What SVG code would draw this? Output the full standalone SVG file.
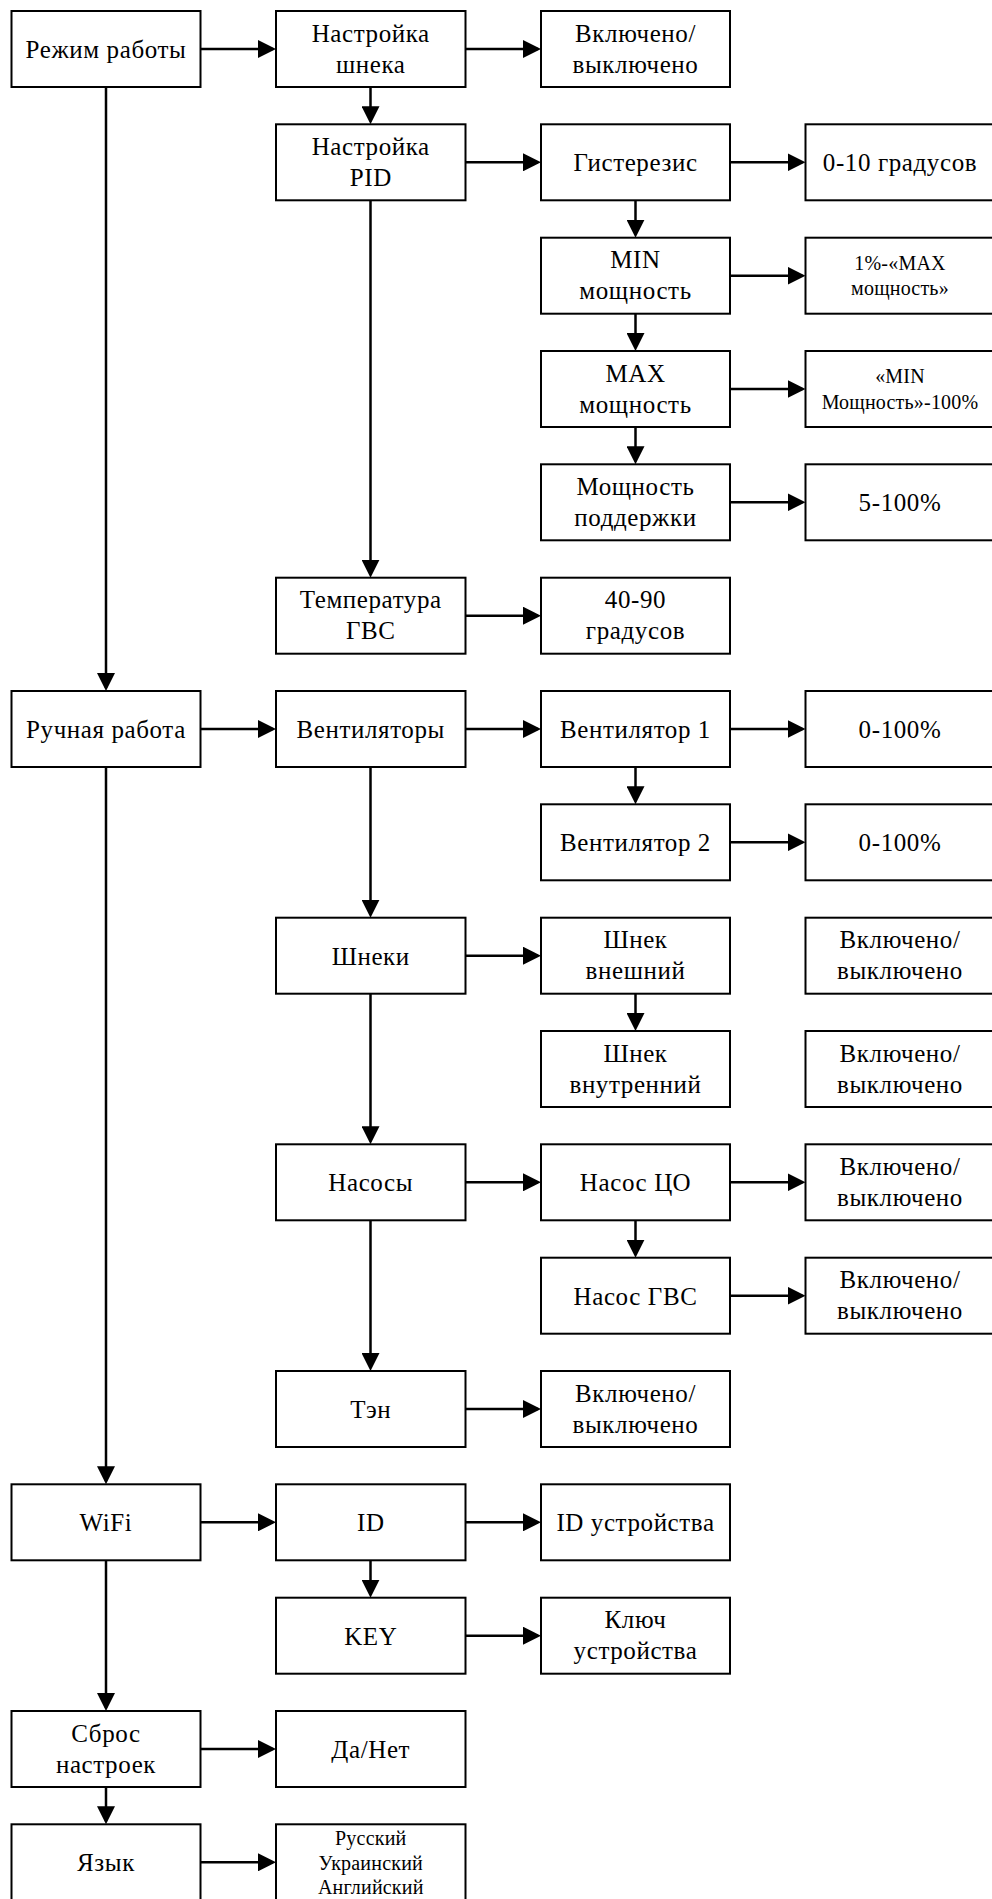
<svg xmlns="http://www.w3.org/2000/svg" width="992" height="1899" viewBox="0 0 992 1899">
<style>
.n rect{fill:#fff;stroke:#000;stroke-width:2}
.n text{font-family:"Liberation Serif","Times New Roman",serif;font-size:25px;letter-spacing:0.6px;fill:#000;text-anchor:middle}
.n text.s{font-size:20px;letter-spacing:0.2px}
#connectors line{stroke:#000;stroke-width:2.5;marker-end:url(#ah)}
</style>
<defs>
<marker id="ah" viewBox="0 0 18 18" refX="15" refY="9" markerWidth="18" markerHeight="18" markerUnits="userSpaceOnUse" orient="auto">
<path d="M0,0 L18,9 L0,18 z" fill="#000"/>
</marker>
</defs>
<rect width="992" height="1899" fill="#fff"/>
<g id="connectors">
<line x1="106" y1="87" x2="106" y2="688"/>
<line x1="106" y1="767" x2="106" y2="1481.3"/>
<line x1="106" y1="1560.3" x2="106" y2="1708"/>
<line x1="106" y1="1787" x2="106" y2="1821.3"/>
<line x1="370.5" y1="87" x2="370.5" y2="121.3"/>
<line x1="370.5" y1="200.3" x2="370.5" y2="574.7"/>
<line x1="370.5" y1="767" x2="370.5" y2="914.7"/>
<line x1="370.5" y1="993.7" x2="370.5" y2="1141.3"/>
<line x1="370.5" y1="1220.3" x2="370.5" y2="1368"/>
<line x1="370.5" y1="1560.3" x2="370.5" y2="1594.7"/>
<line x1="635.5" y1="200.3" x2="635.5" y2="234.7"/>
<line x1="635.5" y1="313.7" x2="635.5" y2="348"/>
<line x1="635.5" y1="427" x2="635.5" y2="461.3"/>
<line x1="635.5" y1="767" x2="635.5" y2="801.3"/>
<line x1="635.5" y1="993.7" x2="635.5" y2="1028"/>
<line x1="635.5" y1="1220.3" x2="635.5" y2="1254.7"/>
<line x1="200.5" y1="49" x2="273" y2="49"/>
<line x1="200.5" y1="729" x2="273" y2="729"/>
<line x1="200.5" y1="1522.3" x2="273" y2="1522.3"/>
<line x1="200.5" y1="1749" x2="273" y2="1749"/>
<line x1="200.5" y1="1862.3" x2="273" y2="1862.3"/>
<line x1="465.5" y1="49" x2="538" y2="49"/>
<line x1="465.5" y1="162.3" x2="538" y2="162.3"/>
<line x1="465.5" y1="615.7" x2="538" y2="615.7"/>
<line x1="465.5" y1="729" x2="538" y2="729"/>
<line x1="465.5" y1="955.7" x2="538" y2="955.7"/>
<line x1="465.5" y1="1182.3" x2="538" y2="1182.3"/>
<line x1="465.5" y1="1409" x2="538" y2="1409"/>
<line x1="465.5" y1="1522.3" x2="538" y2="1522.3"/>
<line x1="465.5" y1="1635.7" x2="538" y2="1635.7"/>
<line x1="730" y1="162.3" x2="802.5" y2="162.3"/>
<line x1="730" y1="275.7" x2="802.5" y2="275.7"/>
<line x1="730" y1="389" x2="802.5" y2="389"/>
<line x1="730" y1="502.3" x2="802.5" y2="502.3"/>
<line x1="730" y1="729" x2="802.5" y2="729"/>
<line x1="730" y1="842.3" x2="802.5" y2="842.3"/>
<line x1="730" y1="1182.3" x2="802.5" y2="1182.3"/>
<line x1="730" y1="1295.7" x2="802.5" y2="1295.7"/>
</g>

<g id="n-rezhim" class="n"><rect x="11.5" y="11" width="189" height="76"/><text x="106" y="58">Режим работы</text></g>
<g id="n-shnek-set" class="n"><rect x="276" y="11" width="189.5" height="76"/><text x="370.75" y="41.5">Настройка</text><text x="370.75" y="72.5">шнека</text></g>
<g id="n-shnek-on" class="n"><rect x="541" y="11" width="189" height="76"/><text x="635.5" y="41.5">Включено/</text><text x="635.5" y="72.5">выключено</text></g>

<g id="n-pid" class="n"><rect x="276" y="124.3" width="189.5" height="76"/><text x="370.75" y="154.8">Настройка</text><text x="370.75" y="185.8">PID</text></g>
<g id="n-hyst" class="n"><rect x="541" y="124.3" width="189" height="76"/><text x="635.5" y="171.3">Гистерезис</text></g>
<g id="n-hyst-v" class="n"><rect x="805.5" y="124.3" width="189" height="76"/><text x="900" y="171.3">0-10 градусов</text></g>

<g id="n-min" class="n"><rect x="541" y="237.7" width="189" height="76"/><text x="635.5" y="268.2">MIN</text><text x="635.5" y="299.2">мощность</text></g>
<g id="n-min-v" class="n"><rect x="805.5" y="237.7" width="189" height="76"/><text class="s" x="900" y="270">1%-«MAX</text><text class="s" x="900" y="295">мощность»</text></g>

<g id="n-max" class="n"><rect x="541" y="351" width="189" height="76"/><text x="635.5" y="381.5">MAX</text><text x="635.5" y="412.5">мощность</text></g>
<g id="n-max-v" class="n"><rect x="805.5" y="351" width="189" height="76"/><text class="s" x="900" y="383">«MIN</text><text class="s" x="900" y="408.5">Мощность»-100%</text></g>

<g id="n-support" class="n"><rect x="541" y="464.3" width="189" height="76"/><text x="635.5" y="494.8">Мощность</text><text x="635.5" y="525.8">поддержки</text></g>
<g id="n-support-v" class="n"><rect x="805.5" y="464.3" width="189" height="76"/><text x="900" y="511.3">5-100%</text></g>

<g id="n-gvs-temp" class="n"><rect x="276" y="577.7" width="189.5" height="76"/><text x="370.75" y="608.2">Температура</text><text x="370.75" y="639.2">ГВС</text></g>
<g id="n-gvs-temp-v" class="n"><rect x="541" y="577.7" width="189" height="76"/><text x="635.5" y="608.2">40-90</text><text x="635.5" y="639.2">градусов</text></g>

<g id="n-manual" class="n"><rect x="11.5" y="691" width="189" height="76"/><text x="106" y="738">Ручная работа</text></g>
<g id="n-fans" class="n"><rect x="276" y="691" width="189.5" height="76"/><text x="370.75" y="738">Вентиляторы</text></g>
<g id="n-fan1" class="n"><rect x="541" y="691" width="189" height="76"/><text x="635.5" y="738">Вентилятор 1</text></g>
<g id="n-fan1-v" class="n"><rect x="805.5" y="691" width="189" height="76"/><text x="900" y="738">0-100%</text></g>

<g id="n-fan2" class="n"><rect x="541" y="804.3" width="189" height="76"/><text x="635.5" y="851.3">Вентилятор 2</text></g>
<g id="n-fan2-v" class="n"><rect x="805.5" y="804.3" width="189" height="76"/><text x="900" y="851.3">0-100%</text></g>

<g id="n-augers" class="n"><rect x="276" y="917.7" width="189.5" height="76"/><text x="370.75" y="964.7">Шнеки</text></g>
<g id="n-auger-ext" class="n"><rect x="541" y="917.7" width="189" height="76"/><text x="635.5" y="948.2">Шнек</text><text x="635.5" y="979.2">внешний</text></g>
<g id="n-auger-ext-v" class="n"><rect x="805.5" y="917.7" width="189" height="76"/><text x="900" y="948.2">Включено/</text><text x="900" y="979.2">выключено</text></g>

<g id="n-auger-int" class="n"><rect x="541" y="1031" width="189" height="76"/><text x="635.5" y="1061.5">Шнек</text><text x="635.5" y="1092.5">внутренний</text></g>
<g id="n-auger-int-v" class="n"><rect x="805.5" y="1031" width="189" height="76"/><text x="900" y="1061.5">Включено/</text><text x="900" y="1092.5">выключено</text></g>

<g id="n-pumps" class="n"><rect x="276" y="1144.3" width="189.5" height="76"/><text x="370.75" y="1191.3">Насосы</text></g>
<g id="n-pump-co" class="n"><rect x="541" y="1144.3" width="189" height="76"/><text x="635.5" y="1191.3">Насос ЦО</text></g>
<g id="n-pump-co-v" class="n"><rect x="805.5" y="1144.3" width="189" height="76"/><text x="900" y="1174.8">Включено/</text><text x="900" y="1205.8">выключено</text></g>

<g id="n-pump-gvs" class="n"><rect x="541" y="1257.7" width="189" height="76"/><text x="635.5" y="1304.7">Насос ГВС</text></g>
<g id="n-pump-gvs-v" class="n"><rect x="805.5" y="1257.7" width="189" height="76"/><text x="900" y="1288.2">Включено/</text><text x="900" y="1319.2">выключено</text></g>

<g id="n-ten" class="n"><rect x="276" y="1371" width="189.5" height="76"/><text x="370.75" y="1418">Тэн</text></g>
<g id="n-ten-v" class="n"><rect x="541" y="1371" width="189" height="76"/><text x="635.5" y="1401.5">Включено/</text><text x="635.5" y="1432.5">выключено</text></g>

<g id="n-wifi" class="n"><rect x="11.5" y="1484.3" width="189" height="76"/><text x="106" y="1531.3">WiFi</text></g>
<g id="n-id" class="n"><rect x="276" y="1484.3" width="189.5" height="76"/><text x="370.75" y="1531.3">ID</text></g>
<g id="n-id-v" class="n"><rect x="541" y="1484.3" width="189" height="76"/><text x="635.5" y="1531.3">ID устройства</text></g>

<g id="n-key" class="n"><rect x="276" y="1597.7" width="189.5" height="76"/><text x="370.75" y="1644.7">KEY</text></g>
<g id="n-key-v" class="n"><rect x="541" y="1597.7" width="189" height="76"/><text x="635.5" y="1628.2">Ключ</text><text x="635.5" y="1659.2">устройства</text></g>

<g id="n-reset" class="n"><rect x="11.5" y="1711" width="189" height="76"/><text x="106" y="1741.5">Сброс</text><text x="106" y="1772.5">настроек</text></g>
<g id="n-reset-v" class="n"><rect x="276" y="1711" width="189.5" height="76"/><text x="370.75" y="1758">Да/Нет</text></g>

<g id="n-lang" class="n"><rect x="11.5" y="1824.3" width="189" height="76"/><text x="106" y="1871.3">Язык</text></g>
<g id="n-lang-v" class="n"><rect x="276" y="1824.3" width="189.5" height="76"/><text class="s" x="370.75" y="1845">Русский</text><text class="s" x="370.75" y="1870">Украинский</text><text class="s" x="370.75" y="1894">Английский</text></g>
</svg>
